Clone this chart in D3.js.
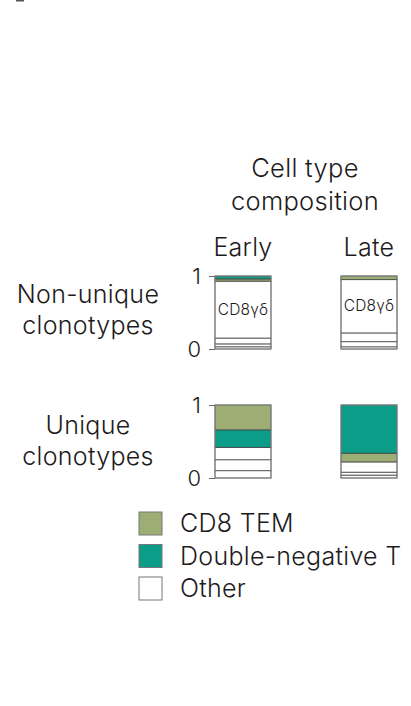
<!DOCTYPE html>
<html>
<head>
<meta charset="utf-8">
<script src="https://cdn.jsdelivr.net/npm/d3@7"></script>
<style>
  body { margin: 0; background: #ffffff; }
  svg { display: block; font-family: "Inter", sans-serif; font-weight: 350; }
</style>
</head>
<body>
<svg id="chart" width="411" height="706"></svg>
<script>
// timepoints and rows
var timepoints = ["Early", "Late"];
var rowNames = ["nonUnique", "unique"];
var rowLabels = [["Non-unique", "clonotypes"], ["Unique", "clonotypes"]];

// cell types listed bottom -> top, with share of each segment
var nonUniqueEarlyTypes = ["Other", "Other", "Other", "CD8γδ", "CD8 TEM", "Double-negative T"];
var nonUniqueEarlyValues = [0.03, 0.04, 0.08, 0.78, 0.03, 0.04];
var nonUniqueLateTypes = ["Other", "Other", "Other", "CD8γδ", "CD8 TEM"];
var nonUniqueLateValues = [0.03, 0.07, 0.12, 0.73, 0.05];
var uniqueEarlyTypes = ["Other", "Other", "Other", "Double-negative T", "CD8 TEM"];
var uniqueEarlyValues = [0.10, 0.15, 0.17, 0.24, 0.34];
var uniqueLateTypes = ["Other", "Other", "Other", "CD8 TEM", "Double-negative T"];
var uniqueLateValues = [0.04, 0.04, 0.14, 0.12, 0.66];

var legendLabels = ["CD8 TEM", "Double-negative T", "Other"];
var yTicks = [0, 1];

var colors = {
  "CD8 TEM": "#9cae74",
  "Double-negative T": "#0c9d88",
  "Other": "#ffffff",
  "CD8γδ": "#ffffff"
}

var svg = d3.select("#chart");
var textColor = "#1e1b1c";

// stray mark at top edge
svg.append("rect").attr("x", 16).attr("y", 0).attr("width", 8).attr("height", 1.5).attr("fill", "#555");

var x = d3.scaleBand().domain(timepoints).range([215, 397]).paddingInner(0.5556);

var rowsY = {
  nonUnique: d3.scaleLinear().domain([0, 1]).range([349, 276]),
  unique: d3.scaleLinear().domain([0, 1]).range([478, 405])
}

var barData = {
  nonUnique: {
    Early: { types: nonUniqueEarlyTypes, values: nonUniqueEarlyValues },
    Late: { types: nonUniqueLateTypes, values: nonUniqueLateValues }
  },
  unique: {
    Early: { types: uniqueEarlyTypes, values: uniqueEarlyValues },
    Late: { types: uniqueLateTypes, values: uniqueLateValues }
  }
}

// title
var title = svg.append("text")
  .attr("text-anchor", "middle")
  .attr("font-size", 25.5)
  .attr("letter-spacing", 0.3)
  .attr("fill", textColor);
title.append("tspan").attr("x", 305).attr("y", 177).text("Cell type");
title.append("tspan").attr("x", 305).attr("y", 210).text("composition");

// column headers
svg.selectAll("text.col")
  .data(timepoints)
  .enter().append("text")
  .attr("class", "col")
  .attr("x", function (d) { return x(d) + x.bandwidth() / 2; })
  .attr("y", 256)
  .attr("text-anchor", "middle")
  .attr("font-size", 25)
  .attr("letter-spacing", 0.3)
  .attr("fill", textColor)
  .text(function (d) { return d; });

rowNames.forEach(function (row, ri) {
  var y = rowsY[row];

  // row label
  var lbl = svg.append("text")
    .attr("text-anchor", "middle")
    .attr("font-size", 25)
    .attr("letter-spacing", 0.3)
    .attr("fill", textColor);
  var baseY = ri == 0 ? 303 : 434;
  rowLabels[ri].forEach(function (line, li) {
    lbl.append("tspan").attr("x", 88).attr("y", baseY + li * 31).text(line);
  });

  // axis: ticks only
  var axis = svg.append("g")
    .attr("transform", "translate(" + x.range()[0] + ",0)")
    .call(d3.axisLeft(y).tickValues(yTicks).tickSize(6).tickFormat(d3.format("d")));
  axis.select(".domain").remove();
  axis.selectAll(".tick line").attr("stroke", "#666").attr("stroke-width", 1);
  axis.selectAll(".tick text")
    .attr("font-size", 22)
    .attr("font-family", "Inter, sans-serif")
    .attr("font-weight", 350)
    .attr("fill", textColor)
    .attr("x", -14);

  timepoints.forEach(function (tp) {
    var bar = barData[row][tp];
    var g = svg.append("g");
    var cum = 0;
    var segs = bar.values.map(function (v, i) {
      var s = { type: bar.types[i], y0: cum, y1: cum + v };
      cum += v;
      return s;
    });

    g.selectAll("rect.seg")
      .data(segs)
      .enter().append("rect")
      .attr("class", "seg")
      .attr("x", x(tp))
      .attr("width", x.bandwidth())
      .attr("y", function (d) { return y(d.y1); })
      .attr("height", function (d) { return y(d.y0) - y(d.y1); })
      .attr("fill", function (d) { return colors[d.type]; })
      .attr("stroke", "#444")
      .attr("stroke-width", 0.8);

    // outer frame
    g.append("rect")
      .attr("x", x(tp))
      .attr("width", x.bandwidth())
      .attr("y", y(1))
      .attr("height", y(0) - y(1))
      .attr("fill", "none")
      .attr("stroke", "#888")
      .attr("stroke-width", 1);

    segs.forEach(function (s) {
      if (s.type == "CD8γδ") {
        g.append("text")
          .attr("x", x(tp) + x.bandwidth() / 2)
          .attr("y", y((s.y0 + s.y1) / 2) + 5)
          .attr("text-anchor", "middle")
          .attr("font-size", 15.5)
          .attr("letter-spacing", 0.2)
          .attr("fill", textColor)
          .text("CD8γδ");
      }
    });
  });
});

// legend
var legend = svg.selectAll("g.legend")
  .data(legendLabels)
  .enter().append("g")
  .attr("class", "legend")
  .attr("transform", function (d, i) { return "translate(139," + (512 + i * 32.5) + ")"; });

legend.append("rect")
  .attr("width", 23)
  .attr("height", 23)
  .attr("fill", function (d) { return colors[d]; })
  .attr("stroke", "#777")
  .attr("stroke-width", 1);

legend.append("text")
  .attr("x", 41)
  .attr("y", 20)
  .attr("font-size", 25)
  .attr("letter-spacing", 0.3)
  .attr("fill", textColor)
  .text(function (d) { return d; });
</script>
</body>
</html>
